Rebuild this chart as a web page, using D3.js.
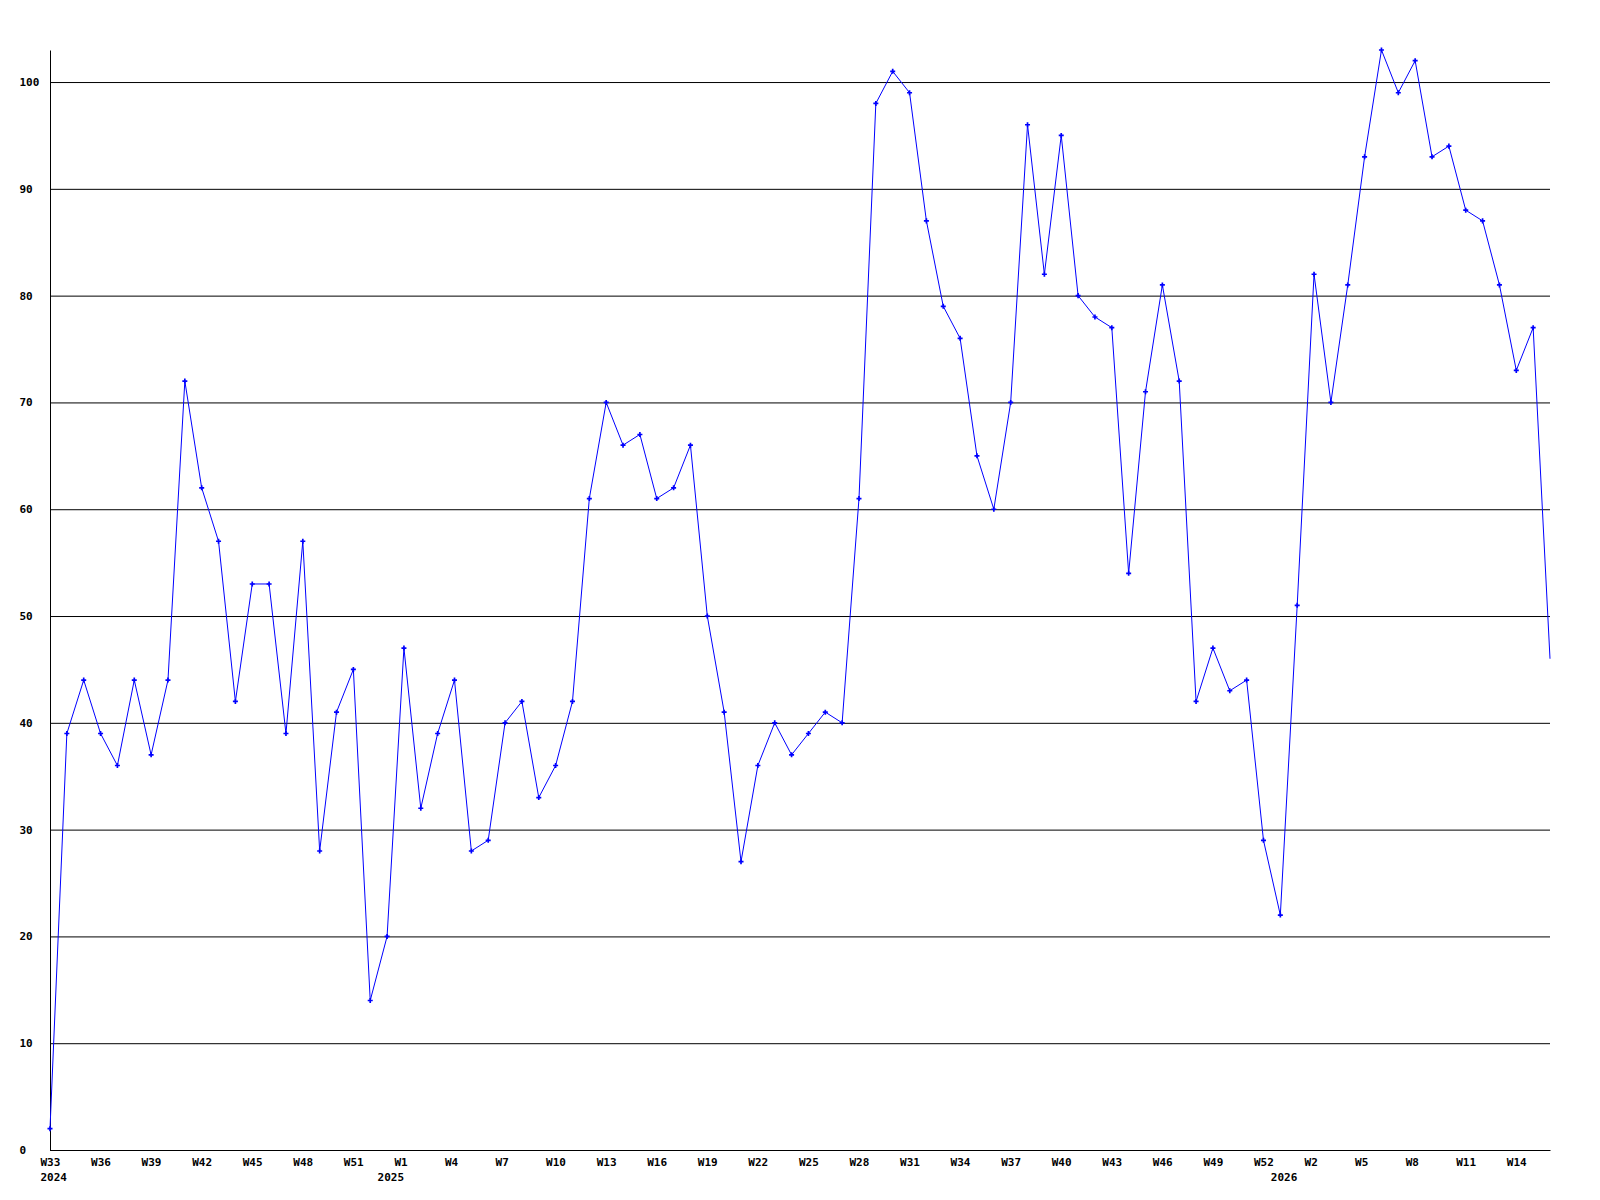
<!DOCTYPE html>
<html><head><meta charset="utf-8">
<script src="https://cdn.jsdelivr.net/npm/d3@7"></script>
<style>body{margin:0;background:#fff}</style>
</head><body><svg id="c" width="1600" height="1200" style="background:#fff"></svg>
<script>
const values = [2,39,44,39,36,44,37,44,72,62,57,42,53,53,39,57,28,41,45,14,
20,47,32,39,44,28,29,40,42,33,36,42,61,70,66,67,61,62,66,50,
41,27,36,40,37,39,41,40,61,98,101,99,87,79,76,65,60,70,96,82,
95,80,78,77,54,71,81,72,42,47,43,44,29,22,51,82,70,81,93,103,
99,102,93,94,88,87,81,73,77,46];
const weekLabels = ["W33","W36","W39","W42","W45","W48","W51","W1","W4","W7","W10","W13","W16","W19","W22","W25","W28","W31","W34","W37","W40","W43","W46","W49","W52","W2","W5","W8","W11","W14"];
const weekLabelIdx = [0,3,6,9,12,15,18,21,24,27,30,33,36,39,42,45,48,51,54,57,60,63,66,69,72,75,78,81,84,87];
const yearLabels = ["2024","2025","2026"];
const yearLabelIdx = [0,20,73];
const yTicks = [0,10,20,30,40,50,60,70,80,90,100];

const svg = d3.select("#c");
const mLeft = 50, mRight = 1550, mTop = 50, mBottom = 1150;
const x = d3.scaleLinear().domain([0, values.length - 1]).range([mLeft, mRight]);
const y = d3.scaleLinear().domain([0, 103]).range([mBottom, mTop]);
const font = "'DejaVu Sans Mono', monospace";

// Y axis with grid lines
const gy = svg.append("g").attr("transform", `translate(${mLeft},0)`)
  .call(d3.axisLeft(y).tickValues(yTicks).tickSize(-(mRight - mLeft)).tickSizeOuter(0).tickFormat(d3.format("d")));
gy.select(".domain").attr("stroke", "#000");
gy.selectAll(".tick line").attr("stroke", "#000");
gy.selectAll(".tick text").attr("text-anchor", "start").attr("x", 19.5 - mLeft)
  .attr("font-family", font).attr("font-weight", "bold").attr("font-size", 11).attr("fill", "#000");

// X axis: week labels
const gx = svg.append("g").attr("transform", `translate(0,${mBottom})`)
  .call(d3.axisBottom(x).tickValues(weekLabelIdx).tickSize(0).tickSizeOuter(0).tickPadding(8)
    .tickFormat((d, i) => weekLabels[i]));
gx.select(".domain").attr("stroke", "#000");
gx.selectAll(".tick text").attr("text-anchor", "start").attr("x", -10)
  .attr("font-family", font).attr("font-weight", "bold").attr("font-size", 11).attr("fill", "#000");

// Year labels
const gyr = svg.append("g").attr("transform", `translate(0,${mBottom})`)
  .call(d3.axisBottom(x).tickValues(yearLabelIdx).tickSize(0).tickSizeOuter(0).tickPadding(23)
    .tickFormat((d, i) => yearLabels[i]));
gyr.select(".domain").remove();
gyr.selectAll(".tick text").attr("text-anchor", "start").attr("x", -10)
  .attr("font-family", font).attr("font-weight", "bold").attr("font-size", 11).attr("fill", "#000");

// Line
const line = d3.line().x((d, i) => x(i)).y(d => y(d));
svg.append("path").datum(values).attr("d", line)
  .attr("fill", "none").attr("stroke", "#0000ff").attr("stroke-width", 1);

// Markers
svg.append("g").selectAll("path").data(values.slice(0, values.length - 1)).join("path")
  .attr("transform", (d, i) => `translate(${x(i)},${y(d)})`)
  .attr("d", d3.symbol(d3.symbolCross, 14))
  .attr("fill", "#0000ff");
</script>
</body></html>
